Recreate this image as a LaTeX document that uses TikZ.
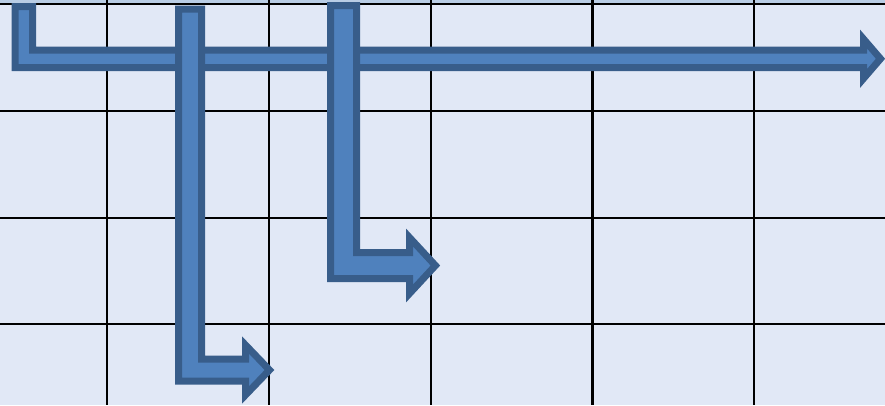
\documentclass[tikz,border=0pt]{standalone}
\definecolor{bgblue}{HTML}{E1E8F6}
\definecolor{bandblue}{HTML}{B9CDE5}
\definecolor{arrowfill}{HTML}{4F81BD}
\definecolor{arrowline}{HTML}{385D8A}
\tikzset{
  gridline/.style={draw=black, line width=2.2pt},
  bentarrow/.style={fill=arrowfill, draw=arrowline, line width=7pt, line join=miter, miter limit=10},
}
\begin{document}
\begin{tikzpicture}[x=1pt,y=-1pt]
\useasboundingbox (0,0) rectangle (885,405);
\fill[bgblue] (0,0) rectangle (885,405);
\fill[bandblue] (0,0) rectangle (885,3.3);
% grid
\foreach \gx in {107,269,431,592.5,754}
  \draw[gridline] (\gx,0) -- (\gx,405);
\foreach \gy in {4.3,111,218,324}
  \draw[gridline] (0,\gy) -- (885,\gy);
% arrow 1
\draw[bentarrow] (15,6.5) -- (15,67.5) -- (863.5,67.5) -- (863.5,78.5) -- (880.5,58.75)
  -- (863.5,39) -- (863.5,50) -- (32.5,50) -- (32.5,6.5) -- cycle;
% arrow 2
\draw[bentarrow] (178.5,9) -- (178.5,381) -- (245.5,381) -- (245.5,395) -- (269.5,370)
  -- (245.5,345) -- (245.5,359) -- (201.5,359) -- (201.5,9) -- cycle;
% arrow 3
\draw[bentarrow] (330.5,5.5) -- (330.5,278.5) -- (409.5,278.5) -- (409.5,293.5) -- (435.4,265.5)
  -- (409.5,237.5) -- (409.5,252.5) -- (356.5,252.5) -- (356.5,5.5) -- cycle;
\end{tikzpicture}
\end{document}
